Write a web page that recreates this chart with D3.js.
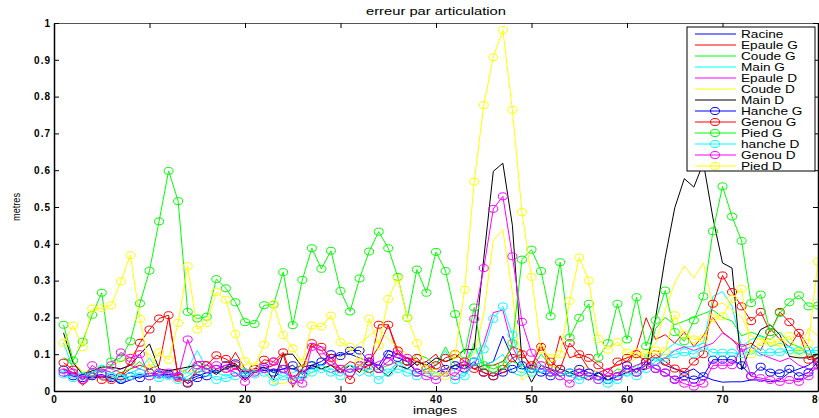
<!DOCTYPE html>
<html lang="fr">
<head>
	<meta charset="UTF-8">
	<title>erreur par articulation</title>
	<style>
		body { margin: 0; background: #fff; }
		text { font-family: "Liberation Sans", Arial, sans-serif; }
	</style>
</head>
<body>

	<script src="https://cdn.jsdelivr.net/npm/d3@7"></script>

	<script type="text/javascript">

		var width = 819,
			height = 418;

		var titleText = "erreur par articulation",
			xLabel = "images",
			yLabel = "metres";

		var xTicks = [ 0, 10, 20, 30, 40, 50, 60, 70, 80 ];
		var yTicks = [ 0, 0.1, 0.2, 0.3, 0.4, 0.5, 0.6, 0.7, 0.8, 0.9, 1 ];

		// legend order = drawing order
		var seriesNames = [ "Racine", "Epaule G", "Coude G", "Main G", "Epaule D", "Coude D", "Main D",
							"Hanche G", "Genou G", "Pied G", "hanche D", "Genou D", "Pied D" ];
		var seriesColors = [ "#0000ff", "#ff0000", "#00ff00", "#00ffff", "#ff00ff", "#ffff00", "#000000",
							 "#0000ff", "#ff0000", "#00ff00", "#00ffff", "#ff00ff", "#ffff00" ];
		var seriesMarkers = [ false, false, false, false, false, false, false,
							  true, true, true, true, true, true ];

		// one value per image, images 1..80
		var racine = [ 0.04, 0.045, 0.04, 0.035, 0.04, 0.035, 0.02, 0.03, 0.04, 0.04,
			0.045, 0.04, 0.035, 0.03, 0.04, 0.05, 0.055, 0.06, 0.07, 0.05,
			0.055, 0.06, 0.055, 0.06, 0.06, 0.05, 0.065, 0.07, 0.09, 0.1,
			0.1, 0.09, 0.08, 0.07, 0.11, 0.1, 0.09, 0.07, 0.08, 0.06,
			0.05, 0.07, 0.08, 0.06, 0.07, 0.08, 0.149, 0.09, 0.06, 0.05,
			0.06, 0.05, 0.04, 0.05, 0.04, 0.05, 0.04, 0.03, 0.04, 0.05,
			0.06, 0.07, 0.09, 0.07, 0.06, 0.05, 0.06, 0.04, 0.03, 0.024,
			0.025, 0.025, 0.03, 0.03, 0.025, 0.03, 0.05, 0.06, 0.07, 0.09 ];

		var epauleG = [ 0.06, 0.05, 0.015, 0.04, 0.04, 0.03, 0.04, 0.06, 0.07, 0.06,
			0.07, 0.2, 0.04, 0.03, 0.05, 0.06, 0.05, 0.06, 0.105, 0.06,
			0.05, 0.06, 0.07, 0.1, 0.01, 0.06, 0.13, 0.09, 0.07, 0.06,
			0.08, 0.07, 0.08, 0.12, 0.18, 0.1, 0.09, 0.07, 0.08, 0.1,
			0.06, 0.07, 0.07, 0.06, 0.07, 0.07, 0.08, 0.12, 0.11, 0.06,
			0.13, 0.05, 0.15, 0.09, 0.1, 0.06, 0.05, 0.06, 0.07, 0.08,
			0.113, 0.199, 0.14, 0.153, 0.13, 0.16, 0.12, 0.15, 0.2, 0.16,
			0.14, 0.12, 0.13, 0.11, 0.17, 0.14, 0.12, 0.16, 0.12, 0.06 ];

		var coudeG = [ 0.09, 0.08, 0.05, 0.05, 0.07, 0.06, 0.05, 0.06, 0.08, 0.05,
			0.04, 0.05, 0.04, 0.06, 0.08, 0.07, 0.05, 0.06, 0.07, 0.06,
			0.05, 0.06, 0.05, 0.07, 0.06, 0.07, 0.08, 0.06, 0.05, 0.06,
			0.07, 0.06, 0.05, 0.06, 0.07, 0.08, 0.07, 0.1, 0.09, 0.07,
			0.12, 0.07, 0.06, 0.13, 0.06, 0.05, 0.06, 0.08, 0.07, 0.06,
			0.1, 0.07, 0.06, 0.05, 0.06, 0.04, 0.05, 0.04, 0.06, 0.05,
			0.07, 0.08, 0.17, 0.2, 0.18, 0.19, 0.2, 0.21, 0.22, 0.2,
			0.19, 0.15, 0.16, 0.15, 0.14, 0.16, 0.13, 0.12, 0.1, 0.09 ];

		var mainG = [ 0.13, 0.06, 0.04, 0.05, 0.06, 0.05, 0.04, 0.05, 0.06, 0.09,
			0.05, 0.04, 0.05, 0.06, 0.11, 0.06, 0.05, 0.04, 0.05, 0.04,
			0.05, 0.06, 0.05, 0.04, 0.05, 0.06, 0.05, 0.07, 0.06, 0.05,
			0.06, 0.04, 0.06, 0.07, 0.05, 0.08, 0.06, 0.05, 0.06, 0.07,
			0.11, 0.05, 0.04, 0.12, 0.07, 0.08, 0.1, 0.05, 0.04, 0.06,
			0.05, 0.04, 0.05, 0.04, 0.03, 0.04, 0.03, 0.04, 0.05, 0.04,
			0.06, 0.1, 0.08, 0.11, 0.13, 0.12, 0.12, 0.13, 0.257, 0.27,
			0.23, 0.12, 0.14, 0.15, 0.12, 0.13, 0.12, 0.1, 0.11, 0.1 ];

		var epauleD = [ 0.06, 0.05, 0.04, 0.05, 0.06, 0.05, 0.06, 0.07, 0.06, 0.05,
			0.04, 0.05, 0.06, 0.05, 0.08, 0.08, 0.06, 0.05, 0.06, 0.05,
			0.06, 0.05, 0.06, 0.05, 0.04, 0.05, 0.07, 0.06, 0.05, 0.06,
			0.05, 0.06, 0.07, 0.08, 0.09, 0.07, 0.06, 0.08, 0.07, 0.06,
			0.05, 0.06, 0.05, 0.07, 0.13, 0.213, 0.22, 0.12, 0.07, 0.06,
			0.05, 0.06, 0.05, 0.04, 0.05, 0.06, 0.05, 0.04, 0.05, 0.06,
			0.07, 0.08, 0.07, 0.09, 0.11, 0.12, 0.11, 0.12, 0.13, 0.158,
			0.14, 0.11, 0.12, 0.1, 0.09, 0.08, 0.09, 0.07, 0.06, 0.06 ];

		var coudeD = [ 0.14, 0.08, 0.05, 0.06, 0.06, 0.07, 0.08, 0.1, 0.11, 0.1,
			0.06, 0.05, 0.06, 0.05, 0.06, 0.07, 0.06, 0.05, 0.07, 0.06,
			0.05, 0.06, 0.02, 0.02, 0.03, 0.03, 0.05, 0.06, 0.07, 0.09,
			0.11, 0.13, 0.15, 0.17, 0.14, 0.12, 0.1, 0.08, 0.05, 0.04,
			0.05, 0.06, 0.08, 0.1, 0.21, 0.41, 0.438, 0.267, 0.03, 0.05,
			0.08, 0.07, 0.06, 0.05, 0.07, 0.06, 0.05, 0.04, 0.05, 0.07,
			0.09, 0.1, 0.13, 0.22, 0.294, 0.34, 0.307, 0.348, 0.23, 0.24,
			0.22, 0.2, 0.15, 0.14, 0.13, 0.12, 0.1, 0.11, 0.17, 0.15 ];

		var mainD = [ 0.158, 0.077, 0.045, 0.055, 0.065, 0.065, 0.06, 0.07, 0.1, 0.128,
			0.06, 0.055, 0.06, 0.065, 0.07, 0.06, 0.045, 0.065, 0.07, 0.03,
			0.055, 0.065, 0.03, 0.1, 0.1, 0.065, 0.07, 0.06, 0.07, 0.05,
			0.07, 0.05, 0.09, 0.06, 0.04, 0.07, 0.06, 0.08, 0.07, 0.09,
			0.08, 0.09, 0.113, 0.113, 0.36, 0.597, 0.619, 0.45, 0.08, 0.024,
			0.07, 0.06, 0.04, 0.05, 0.04, 0.03, 0.05, 0.03, 0.04, 0.05,
			0.06, 0.058, 0.2, 0.362, 0.498, 0.577, 0.554, 0.62, 0.47, 0.348,
			0.334, 0.058, 0.12, 0.167, 0.18, 0.153, 0.094, 0.09, 0.09, 0.1 ];

		var hancheG = [ 0.058, 0.04, 0.035, 0.04, 0.045, 0.035, 0.03, 0.04, 0.035, 0.05,
			0.045, 0.045, 0.04, 0.02, 0.035, 0.04, 0.06, 0.07, 0.075, 0.045,
			0.06, 0.065, 0.05, 0.06, 0.07, 0.045, 0.07, 0.08, 0.1, 0.095,
			0.11, 0.11, 0.08, 0.06, 0.1, 0.09, 0.08, 0.05, 0.06, 0.05,
			0.06, 0.07, 0.06, 0.08, 0.05, 0.04, 0.05, 0.06, 0.07, 0.06,
			0.05, 0.04, 0.06, 0.05, 0.06, 0.05, 0.04, 0.03, 0.04, 0.07,
			0.05, 0.08, 0.06, 0.05, 0.031, 0.04, 0.031, 0.04, 0.085, 0.085,
			0.085, 0.07, 0.04, 0.066, 0.05, 0.048, 0.06, 0.04, 0.05, 0.08 ];

		var genouG = [ 0.077, 0.058, 0.03, 0.05, 0.03, 0.03, 0.04, 0.081, 0.131, 0.167,
			0.197, 0.206, 0.036, 0.022, 0.06, 0.07, 0.097, 0.087, 0.07, 0.05,
			0.06, 0.085, 0.08, 0.105, 0.03, 0.06, 0.13, 0.12, 0.09, 0.06,
			0.03, 0.07, 0.06, 0.18, 0.18, 0.11, 0.08, 0.09, 0.06, 0.07,
			0.09, 0.1, 0.08, 0.06, 0.05, 0.04, 0.06, 0.09, 0.1, 0.07,
			0.12, 0.08, 0.06, 0.13, 0.1, 0.09, 0.07, 0.05, 0.08, 0.09,
			0.1, 0.08, 0.1, 0.08, 0.061, 0.052, 0.08, 0.1, 0.237, 0.314,
			0.269, 0.23, 0.19, 0.215, 0.16, 0.215, 0.187, 0.158, 0.085, 0.09 ];

		var piedG = [ 0.18, 0.083, 0.134, 0.207, 0.267, 0.08, 0.09, 0.135, 0.238, 0.327,
			0.461, 0.598, 0.516, 0.215, 0.197, 0.202, 0.304, 0.279, 0.241, 0.187,
			0.182, 0.233, 0.235, 0.323, 0.179, 0.302, 0.388, 0.332, 0.381, 0.272,
			0.216, 0.306, 0.379, 0.433, 0.388, 0.31, 0.199, 0.33, 0.267, 0.378,
			0.326, 0.209, 0.1, 0.227, 0.07, 0.06, 0.07, 0.13, 0.357, 0.384,
			0.326, 0.203, 0.35, 0.145, 0.199, 0.237, 0.091, 0.13, 0.237, 0.14,
			0.255, 0.122, 0.192, 0.273, 0.16, 0.135, 0.192, 0.257, 0.434, 0.556,
			0.474, 0.408, 0.239, 0.262, 0.16, 0.212, 0.241, 0.26, 0.23, 0.232 ];

		var hancheD = [ 0.045, 0.035, 0.04, 0.05, 0.06, 0.04, 0.035, 0.04, 0.05, 0.04,
			0.035, 0.04, 0.03, 0.04, 0.06, 0.05, 0.03, 0.035, 0.04, 0.05,
			0.045, 0.05, 0.025, 0.04, 0.03, 0.04, 0.05, 0.06, 0.05, 0.04,
			0.06, 0.07, 0.05, 0.03, 0.05, 0.06, 0.05, 0.04, 0.05, 0.04,
			0.05, 0.03, 0.04, 0.08, 0.113, 0.196, 0.23, 0.153, 0.06, 0.05,
			0.06, 0.05, 0.04, 0.05, 0.03, 0.04, 0.03, 0.02, 0.03, 0.05,
			0.04, 0.06, 0.08, 0.09, 0.1, 0.105, 0.1, 0.12, 0.104, 0.104,
			0.104, 0.1, 0.11, 0.105, 0.105, 0.105, 0.11, 0.11, 0.11, 0.11 ];

		var genouD = [ 0.05, 0.05, 0.03, 0.07, 0.05, 0.07, 0.105, 0.09, 0.1, 0.04,
			0.05, 0.05, 0.04, 0.14, 0.07, 0.06, 0.07, 0.06, 0.05, 0.025,
			0.05, 0.06, 0.08, 0.06, 0.03, 0.02, 0.12, 0.11, 0.08, 0.06,
			0.05, 0.07, 0.09, 0.06, 0.08, 0.1, 0.09, 0.05, 0.04, 0.03,
			0.05, 0.04, 0.07, 0.196, 0.334, 0.495, 0.529, 0.366, 0.188, 0.104,
			0.07, 0.05, 0.04, 0.02, 0.05, 0.04, 0.03, 0.05, 0.04, 0.06,
			0.05, 0.07, 0.06, 0.05, 0.03, 0.02, 0.012, 0.02, 0.07, 0.07,
			0.07, 0.117, 0.04, 0.035, 0.03, 0.025, 0.03, 0.025, 0.04, 0.07 ];

		var piedD = [ 0.131, 0.178, 0.119, 0.224, 0.225, 0.233, 0.298, 0.369, 0.196, 0.06,
			0.105, 0.085, 0.185, 0.339, 0.167, 0.185, 0.269, 0.248, 0.155, 0.081,
			0.067, 0.126, 0.236, 0.152, 0.116, 0.077, 0.178, 0.175, 0.205, 0.133,
			0.12, 0.08, 0.197, 0.124, 0.25, 0.307, 0.2, 0.13, 0.06, 0.05,
			0.04, 0.099, 0.275, 0.569, 0.777, 0.907, 0.981, 0.764, 0.486, 0.31,
			0.113, 0.09, 0.1, 0.245, 0.363, 0.3, 0.142, 0.112, 0.133, 0.104,
			0.104, 0.1, 0.11, 0.108, 0.206, 0.153, 0.14, 0.143, 0.199, 0.203,
			0.25, 0.278, 0.1, 0.133, 0.133, 0.133, 0.15, 0.104, 0.13, 0.352 ];

		var seriesValues = [ racine, epauleG, coudeG, mainG, epauleD, coudeD, mainD,
							 hancheG, genouG, piedG, hancheD, genouD, piedD ];


		var margin = { top: 23, right: 1, bottom: 27, left: 54 };

		var svg = d3.select( "body" )
					.append( "svg" )
					.attr( "width", width )
					.attr( "height", height );

		var x = d3.scaleLinear()
					.domain( [ 0, 80 ] )
					.range( [ margin.left, width - margin.right ] );

		var y = d3.scaleLinear()
					.domain( [ 0, 1 ] )
					.range( [ height - margin.bottom, margin.top ] );

		svg.append( "clipPath" )
			.attr( "id", "plot-clip" )
			.append( "rect" )
			.attr( "x", x( 0 ) )
			.attr( "y", y( 1 ) )
			.attr( "width", x( 80 ) - x( 0 ) )
			.attr( "height", y( 0 ) - y( 1 ) );

		var line = d3.line()
					.x( function( d, i ) { return x( i + 1 ); } )
					.y( function( d ) { return y( d ); } );

		var plot = svg.append( "g" ).attr( "clip-path", "url(#plot-clip)" );

		seriesValues.forEach( function( values, s ) {

			plot.append( "path" )
				.datum( values )
				.attr( "fill", "none" )
				.attr( "stroke", seriesColors[ s ] )
				.attr( "stroke-width", 1 )
				.attr( "d", line );

			if( seriesMarkers[ s ] ) {
				plot.selectAll( null )
					.data( values )
					.enter()
					.append( "ellipse" )
					.attr( "cx", function( d, i ) { return x( i + 1 ); } )
					.attr( "cy", function( d ) { return y( d ); } )
					.attr( "rx", 4.5 )
					.attr( "ry", 3.5 )
					.attr( "fill", "none" )
					.attr( "stroke", seriesColors[ s ] )
					.attr( "stroke-width", 1 );
			}
		});


		// MATLAB style box with inward ticks on all sides
		var tickLen = 5;

		var xAxisBottom = d3.axisBottom( x ).tickValues( xTicks ).tickSizeInner( -tickLen ).tickSizeOuter( 0 ).tickPadding( 5 );
		var xAxisTop = d3.axisTop( x ).tickValues( xTicks ).tickSizeInner( -tickLen ).tickSizeOuter( 0 ).tickFormat( "" );
		var yAxisLeft = d3.axisLeft( y ).tickValues( yTicks ).tickSizeInner( -tickLen ).tickSizeOuter( 0 ).tickPadding( 3 )
							.tickFormat( function( d ) { return d === 0 || d === 1 ? d : d3.format( ".1f" )( d ); } );
		var yAxisRight = d3.axisRight( y ).tickValues( yTicks ).tickSizeInner( -tickLen ).tickSizeOuter( 0 ).tickFormat( "" );

		function styleAxis( g ) {
			g.select( ".domain" ).attr( "stroke", "#000" ).attr( "stroke-width", 1.5 );
			g.selectAll( ".tick line" ).attr( "stroke", "#000" ).attr( "stroke-width", 1 );
			g.selectAll( ".tick text" )
				.attr( "fill", "#000" )
				.style( "font-size", "10px" )
				.style( "font-weight", "bold" )
				.style( "letter-spacing", "1px" )
				.style( "font-family", "'Liberation Sans', Arial, sans-serif" );
		}

		svg.append( "g" ).attr( "transform", "translate(0," + y( 0 ) + ")" ).call( xAxisBottom ).call( styleAxis );
		svg.append( "g" ).attr( "transform", "translate(0," + y( 1 ) + ")" ).call( xAxisTop ).call( styleAxis )
			.select( ".domain" ).attr( "stroke", "#555" ).attr( "stroke-width", 1 );
		svg.append( "g" ).attr( "transform", "translate(" + x( 0 ) + ",0)" ).call( yAxisLeft ).call( styleAxis );
		svg.append( "g" ).attr( "transform", "translate(" + x( 80 ) + ",0)" ).call( yAxisRight ).call( styleAxis );


		svg.append( "text" )
			.attr( "x", ( x( 0 ) + x( 80 ) ) / 2 )
			.attr( "y", 15 )
			.attr( "text-anchor", "middle" )
			.attr( "textLength", 140 )
			.attr( "lengthAdjust", "spacingAndGlyphs" )
			.style( "font-size", "10px" )
			.text( titleText );

		svg.append( "text" )
			.attr( "x", 435 )
			.attr( "y", 414 )
			.attr( "text-anchor", "middle" )
			.attr( "textLength", 44 )
			.attr( "lengthAdjust", "spacingAndGlyphs" )
			.style( "font-size", "10px" )
			.text( xLabel );

		svg.append( "text" )
			.attr( "transform", "translate(20," + ( ( y( 0 ) + y( 1 ) ) / 2 ) + ") rotate(-90)" )
			.attr( "text-anchor", "middle" )
			.attr( "textLength", 28 )
			.attr( "lengthAdjust", "spacingAndGlyphs" )
			.style( "font-size", "10px" )
			.text( yLabel );


		// legend
		var legendX = 687,
			legendY = 27,
			legendW = 128,
			rowH = 11;

		var legend = svg.append( "g" );

		legend.append( "rect" )
			.attr( "x", legendX )
			.attr( "y", legendY )
			.attr( "width", legendW )
			.attr( "height", seriesNames.length * rowH + 1 )
			.attr( "fill", "#fff" )
			.attr( "stroke", "#000" )
			.attr( "stroke-width", 1 );

		seriesNames.forEach( function( name, s ) {
			var ry = legendY + 7 + s * rowH;

			legend.append( "line" )
				.attr( "x1", legendX + 8 )
				.attr( "x2", legendX + 49 )
				.attr( "y1", ry )
				.attr( "y2", ry )
				.attr( "stroke", seriesColors[ s ] )
				.attr( "stroke-width", 1 );

			if( seriesMarkers[ s ] ) {
				legend.append( "ellipse" )
					.attr( "cx", legendX + 28 )
					.attr( "cy", ry )
					.attr( "rx", 4.5 )
					.attr( "ry", 3.5 )
					.attr( "fill", "none" )
					.attr( "stroke", seriesColors[ s ] );
			}

			legend.append( "text" )
				.attr( "transform", "translate(" + ( legendX + 54 ) + "," + ( ry + 4 ) + ") scale(1.3,1)" )
				.style( "font-size", "10.5px" )
				.text( name );
		});

	</script>
</body>
</html>
